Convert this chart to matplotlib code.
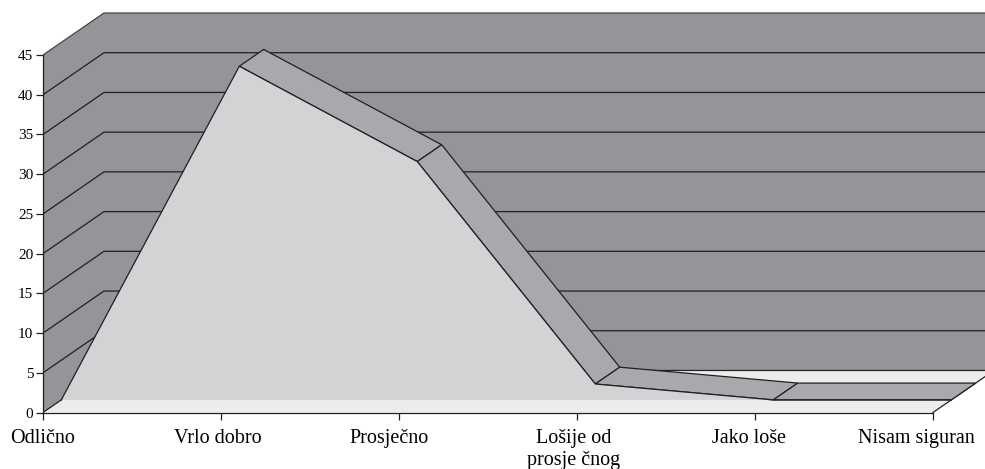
import matplotlib
matplotlib.use("Agg")
import matplotlib.pyplot as plt
from matplotlib.patches import Polygon

categories = ["Odlično", "Vrlo dobro", "Prosječno", "Lošije od\nprosje čnog", "Jako loše", "Nisam siguran"]
values = [0, 42, 30, 2, 0, 0]
y_ticks = [0, 5, 10, 15, 20, 25, 30, 35, 40, 45]

# Excel-like oblique 3D: going to the back shifts right by DX and up by DY
DX = 61 / 178
DY = 5.29
Z_FRONT, Z_BACK = 0.3, 0.7   # depth of the area slab
YMAX = y_ticks[-1]

WALL = "#939598"
TOP = "#a7a9ac"
FRONT = "#d1d3d4"
FLOOR = "#ececec"
LINE = "#231f20"

plt.rcParams['font.family'] = ['Liberation Serif', 'DejaVu Serif']


def proj(x, y, z):
    return (x + z * DX, y + z * DY)


n = len(categories) - 1

fig = plt.figure(figsize=(9.85, 4.69), dpi=100)
ax = fig.add_axes([43 / 985, 56.5 / 469, 942 / 985, 412.5 / 469])
ax.set_xlim(0, 942 / 178)
ax.set_ylim(0, 412.5 / 7.944)

# walls and floor
back = [proj(0, 0, 1), proj(n, 0, 1), proj(n, YMAX, 1), proj(0, YMAX, 1)]
left = [proj(0, 0, 0), proj(0, 0, 1), proj(0, YMAX, 1), proj(0, YMAX, 0)]
floor = [proj(0, 0, 0), proj(n, 0, 0), proj(n, 0, 1), proj(0, 0, 1)]
ax.add_patch(Polygon(back, closed=True, facecolor=WALL, edgecolor="none", zorder=1))
ax.add_patch(Polygon(left, closed=True, facecolor=WALL, edgecolor="none", zorder=1))
ax.add_patch(Polygon(floor, closed=True, facecolor=FLOOR, edgecolor="none", zorder=1))

# gridlines (left wall + back wall)
for v in y_ticks:
    xs = [proj(0, v, 0)[0], proj(0, v, 1)[0], proj(n, v, 1)[0]]
    ys = [proj(0, v, 0)[1], proj(0, v, 1)[1], proj(n, v, 1)[1]]
    ax.plot(xs, ys, color=LINE if v < YMAX else "#444444", lw=0.9, zorder=2,
            solid_joinstyle="miter")
# right edge of the floor
ax.plot([proj(n, 0, 0)[0], proj(n, 0, 1)[0]], [0, proj(n, 0, 1)[1]], color=LINE, lw=0.9, zorder=2)

# top surfaces of the area slab (only the ones facing the viewer)
for i in range(n):
    dv = values[i + 1] - values[i]
    if DY - dv * DX <= 0:
        continue
    poly = [proj(i, values[i], Z_FRONT), proj(i + 1, values[i + 1], Z_FRONT),
            proj(i + 1, values[i + 1], Z_BACK), proj(i, values[i], Z_BACK)]
    ax.add_patch(Polygon(poly, closed=True, facecolor=TOP, edgecolor=LINE, lw=0.9,
                         joinstyle="miter", zorder=3))

# front face of the area
front = [proj(0, 0, Z_FRONT)] + [proj(i, v, Z_FRONT) for i, v in enumerate(values)] + [proj(n, 0, Z_FRONT)]
ax.add_patch(Polygon(front, closed=True, facecolor=FRONT, edgecolor="none", zorder=4))
fx = [proj(i, v, Z_FRONT)[0] for i, v in enumerate(values)]
fy = [proj(i, v, Z_FRONT)[1] for i, v in enumerate(values)]
ax.plot(fx, fy, color=LINE, lw=0.9, zorder=5, solid_joinstyle="miter")

# axes
for s in ["top", "right"]:
    ax.spines[s].set_visible(False)
ax.spines["left"].set_bounds(0, YMAX)
ax.spines["bottom"].set_bounds(0, n)
for s in ["left", "bottom"]:
    ax.spines[s].set_color(LINE)
    ax.spines[s].set_linewidth(0.9)
    ax.spines[s].set_zorder(6)
ax.set_yticks(y_ticks)
ax.set_yticklabels([str(t) for t in y_ticks], fontsize=11)
ax.set_xticks(range(n + 1))
ax.set_xticklabels([])
ax.tick_params(axis="both", direction="out", length=5, width=0.9, color=LINE, pad=2)
ax.patch.set_visible(False)

label_shift = [0, -0.02, -0.056, -0.02, -0.034, -0.096]
for i, lab in enumerate(categories):
    ax.annotate(lab, xy=(i + label_shift[i], 0), xycoords=("data", "axes fraction"),
                xytext=(0, -12), textcoords="offset points", ha="center", va="top",
                fontsize=14.5, linespacing=1.2, color="black")

fig.savefig("out.png", dpi=100)
